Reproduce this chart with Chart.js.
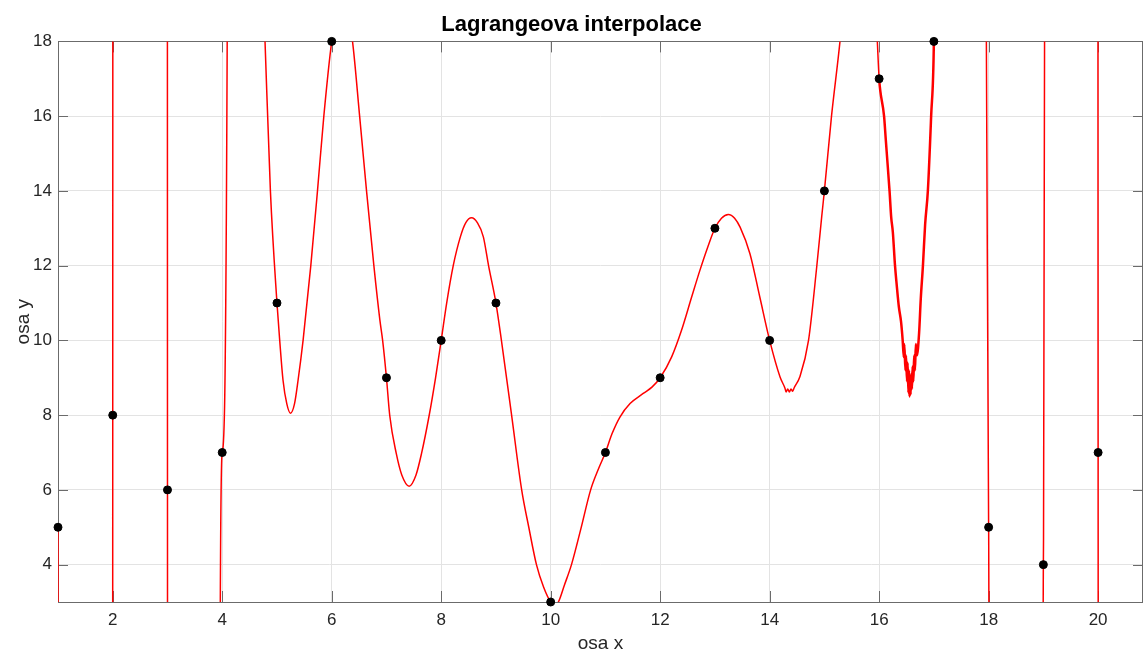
<!DOCTYPE html>
<html>
<head>
<meta charset="utf-8">
<script src="https://cdn.jsdelivr.net/npm/chart.js@4"></script>
<style>
  html, body { margin: 0; padding: 0; background: #fff; }
  #wrap { width: 1144px; height: 655px; }
</style>
</head>
<body>
<div id="wrap"><canvas id="myChart"></canvas></div>
<script>
// uzly interpolace
const nodeX = [1, 2, 3, 4, 5, 6, 7, 8, 9, 10, 11, 12, 13, 14, 15, 16, 17, 18, 19, 20];
const nodeY = [5, 8, 6, 7, 11, 18, 9, 10, 11, 3, 7, 9, 13, 10, 14, 17, 18, 5, 4, 7];

// krivka (hodnoty mimo rozsah os jsou orezane)
const curveX = [
  1, 1.01, 1.995, 2, 2.005, 2.995, 3, 3.005, 3.96, 3.965, 4, 4.091, 4.1,
  4.72, 4.777, 4.88, 5, 5.05, 5.11, 5.18, 5.247, 5.32, 5.386, 5.477, 5.618, 5.74, 5.856, 6, 6.19, 6.38,
  6.51, 6.636, 6.77, 6.88, 6.93, 7, 7.06, 7.18, 7.28, 7.415, 7.54, 7.64, 7.78, 7.897, 8,
  8.1, 8.22, 8.35, 8.45, 8.555, 8.66, 8.77, 8.865, 9, 9.1, 9.286, 9.47, 9.6, 9.74, 9.87, 10,
  10.07, 10.14, 10.25, 10.38, 10.55, 10.73, 10.87, 11, 11.12, 11.265, 11.45, 11.69, 11.85, 12,
  12.21, 12.39, 12.575, 12.727, 12.87, 13, 13.12, 13.245, 13.36, 13.46, 13.64, 13.82, 14,
  14.19, 14.28, 14.3, 14.33, 14.36, 14.39, 14.42, 14.45, 14.55, 14.71, 14.86, 14.95, 15, 15.13, 15.285, 15.38,
  15.9, 15.967, 16, 16.09, 16.12, 16.14, 16.19, 16.22, 16.25, 16.29, 16.32, 16.36, 16.4, 16.43,
  16.45, 16.46, 16.48, 16.49, 16.51, 16.52, 16.535, 16.545, 16.555, 16.565, 16.575, 16.585, 16.6,
  16.61, 16.625, 16.64, 16.655, 16.67, 16.69, 16.73, 16.76, 16.8, 16.84, 16.89, 16.95, 17, 17.02,
  17.94, 17.958, 18, 18.005, 18.01, 18.99, 18.997, 19, 19.022, 19.03, 19.99, 20, 20.01, 20.82
];
const curveY = [
  5, -20, -20, 8, 40, 40, 6, -20, -20, 3, 7, 18.1, 40,
  20.5, 18.2, 14.0, 11, 10.0, 8.94, 8.3, 8.05, 8.3, 8.94, 10.0, 12.0, 14.0, 16.0, 18, 19.6, 18,
  16, 14, 12, 10.54, 10.0, 9, 7.99, 6.97, 6.4, 6.1, 6.4, 6.97, 7.99, 9.0, 10,
  11, 12, 12.77, 13.15, 13.28, 13.15, 12.77, 12, 11, 10, 8, 6.0, 5.0, 4.0, 3.4, 3,
  2.92, 3.0, 3.45, 4.0, 4.95, 6.0, 6.55, 7, 7.5, 7.95, 8.31, 8.58, 8.75, 9,
  9.56, 10.27, 11.16, 11.88, 12.5, 13, 13.27, 13.37, 13.27, 13.03, 12.32, 11.16, 10,
  9.02, 8.72, 8.62, 8.7, 8.62, 8.7, 8.64, 8.74, 9.02, 10.0, 11.97, 13.3, 14, 16.0, 18, 19.5,
  20, 18, 17, 16, 15.4, 15.0, 14, 13.3, 12.9, 12, 11.5, 10.9, 10.5, 10.0,
  9.55, 9.9, 9.2, 9.6, 8.9, 9.4, 8.6, 9.2, 8.5, 9.0, 8.55, 9.1, 8.7,
  9.3, 8.9, 9.6, 9.2, 9.9, 9.6, 10.2, 11.1, 12, 13.1, 14, 16, 18, 21,
  21, 18.3, 5, 3, -20, -20, 3, 4, 18.2, 40, 40, 7, -20, -20
];

const xTicks = [2, 4, 6, 8, 10, 12, 14, 16, 18, 20];
const yTicks = [4, 6, 8, 10, 12, 14, 16, 18];

const nodes = nodeX.map((v, i) => ({x: v, y: nodeY[i]}));
const curve = curveX.map((v, i) => ({x: v, y: curveY[i]}));

Chart.defaults.font.family = '"Liberation Sans", Arial, sans-serif';
Chart.defaults.color = '#262626';

// ramecek a tick znacky dovnitr (jako v MATLABu)
const boxPlugin = {
  id: 'box',
  beforeDatasetsDraw(chart) {
    const {ctx, chartArea: a, scales: {x, y}} = chart;
    ctx.save();
    ctx.strokeStyle = '#6b6b6b';
    ctx.lineWidth = 1;
    ctx.beginPath();
    x.ticks.forEach(t => {
      const px = Math.round(x.getPixelForValue(t.value)) + 0.5;
      ctx.moveTo(px, a.bottom); ctx.lineTo(px, a.bottom - 11);
      ctx.moveTo(px, a.top); ctx.lineTo(px, a.top + 11);
    });
    y.ticks.forEach(t => {
      const py = Math.round(y.getPixelForValue(t.value)) + 0.5;
      ctx.moveTo(a.left, py); ctx.lineTo(a.left + 10, py);
      ctx.moveTo(a.right, py); ctx.lineTo(a.right - 10, py);
    });
    ctx.stroke();
    ctx.strokeRect(Math.round(a.left) + 0.5, Math.round(a.top) + 0.5,
      Math.round(a.right - a.left) - 1, Math.round(a.bottom - a.top));
    ctx.restore();
  }
};

function noPad(axis) {
  axis.paddingLeft = 0;
  axis.paddingRight = 0;
  axis.paddingTop = 0;
  axis.paddingBottom = 0;
}

new Chart(document.getElementById('myChart'), {
  type: 'scatter',
  data: {
    datasets: [
      {
        label: 'uzly',
        data: nodes,
        backgroundColor: '#000',
        borderColor: '#000',
        pointRadius: 4,
        pointHoverRadius: 4,
        clip: false,
        order: 0
      },
      {
        label: 'Lagrange',
        data: curve,
        showLine: true,
        borderColor: '#ff0000',
        borderWidth: 1.5,
        cubicInterpolationMode: 'monotone',
        pointRadius: 0,
        pointHoverRadius: 0,
        clip: 0,
        order: 1,
        segment: {
          borderWidth: c => (c.p0.parsed.x > 15.99 && c.p1.parsed.x <= 17.02) ? 2.5 : 1.5
        }
      }
    ]
  },
  options: {
    responsive: true,
    maintainAspectRatio: false,
    animation: false,
    layout: { autoPadding: false, padding: { right: 1 } },
    plugins: {
      legend: { display: false },
      tooltip: { enabled: false },
      title: {
        display: true,
        text: 'Lagrangeova interpolace',
        color: '#000',
        font: { size: 22, weight: 'bold' },
        padding: { top: 12, bottom: 3 }
      }
    },
    scales: {
      x: {
        type: 'linear',
        min: 1,
        max: 20.82,
        afterBuildTicks: axis => { axis.ticks = xTicks.map(v => ({value: v})); },
        afterFit: axis => { axis.height = 53; noPad(axis); },
        ticks: { font: { size: 17 }, padding: 8, color: '#262626' },
        grid: { color: '#e3e3e3', drawTicks: false },
        border: { display: false },
        title: { display: true, text: 'osa x', font: { size: 19 }, color: '#262626', padding: { top: 0, bottom: 0 } }
      },
      y: {
        type: 'linear',
        min: 3,
        max: 18,
        afterBuildTicks: axis => { axis.ticks = yTicks.map(v => ({value: v})); },
        afterFit: axis => { axis.width = 58; noPad(axis); },
        ticks: { font: { size: 17 }, padding: 6, color: '#262626' },
        grid: { color: '#e3e3e3', drawTicks: false },
        border: { display: false },
        title: { display: true, text: 'osa y', font: { size: 19 }, color: '#262626', padding: { top: 12, bottom: 0 } }
      }
    }
  },
  plugins: [boxPlugin]
});
</script>
</body>
</html>
